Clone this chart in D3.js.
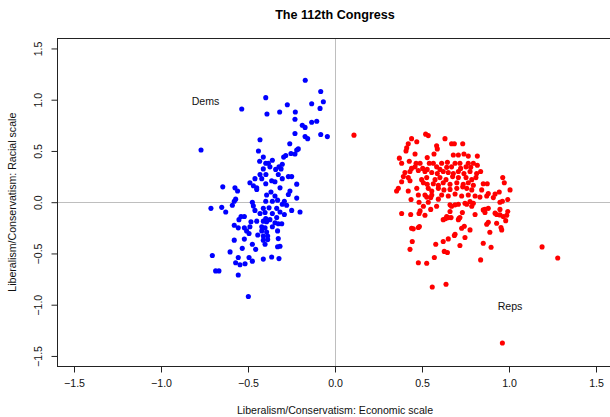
<!DOCTYPE html>
<html>
<head>
<meta charset="utf-8">
<script src="https://cdn.jsdelivr.net/npm/d3@7/dist/d3.min.js"></script>
<style>
  html, body { margin: 0; padding: 0; background: #fff; }
  svg { display: block; font-family: "Liberation Sans", Arial, Helvetica, sans-serif; }
</style>
</head>
<body>
<svg id="chart" width="610" height="417"></svg>
<script>
// Ideal points of House members, 112th Congress (economic, racial dimensions)
const dems = [
  [-0.171,1.19],[-0.082,1.08],[-0.398,1.02],[-0.067,0.98],[-0.134,0.96],[-0.274,0.95],[-0.536,0.91],
  [-0.086,0.915],[-0.391,0.86],[-0.318,0.88],[-0.228,0.88],[-0.23,0.81],[-0.134,0.78],[-0.105,0.79],
  [-0.188,0.75],[-0.172,0.73],[-0.23,0.67],[-0.082,0.66],[-0.044,0.64],[-0.172,0.64],[-0.157,0.62],
  [-0.431,0.61],[-0.77,0.51],[-0.26,0.57],[-0.211,0.52],[-0.22,0.51],[-0.44,0.50],[-0.253,0.475],
  [-0.23,0.47],[-0.283,0.455],[-0.295,0.44],[-0.412,0.44],[-0.36,0.41],[-0.433,0.40],[-0.398,0.38],
  [-0.383,0.38],[-0.303,0.37],[-0.322,0.345],[-0.412,0.325],[-0.341,0.32],[-0.31,0.325],[-0.374,0.345],
  [-0.431,0.27],[-0.397,0.27],[-0.326,0.27],[-0.268,0.25],[-0.249,0.25],[-0.46,0.23],[-0.421,0.23],
  [-0.364,0.21],[-0.345,0.20],[-0.303,0.23],[-0.489,0.19],[-0.469,0.16],[-0.398,0.18],[-0.645,0.15],
  [-0.575,0.14],[-0.45,0.14],[-0.316,0.14],[-0.22,0.176],[-0.45,0.125],
  [-0.56,0.11],[-0.368,0.10],[-0.259,0.11],[-0.268,0.075],[-0.393,0.07],[-0.345,0.06],[-0.571,0.03],
  [-0.579,0.01],[-0.475,0.00],[-0.398,0.01],[-0.36,0.01],[-0.33,0.02],[-0.291,0.01],[-0.22,0.04],
  [-0.303,-0.02],[-0.278,-0.03],[-0.59,-0.03],[-0.713,-0.06],[-0.651,-0.05],[-0.628,-0.095],
  [-0.469,-0.036],[-0.46,-0.08],[-0.412,-0.06],[-0.379,-0.055],[-0.335,-0.06],[-0.316,-0.095],
  [-0.249,-0.08],[-0.201,-0.095],[-0.431,-0.11],[-0.402,-0.10],[-0.36,-0.11],[-0.291,-0.12],
  [-0.54,-0.14],[-0.552,-0.17],[-0.521,-0.14],[-0.398,-0.16],[-0.374,-0.17],[-0.335,-0.15],
  [-0.483,-0.19],[-0.45,-0.185],[-0.412,-0.185],[-0.393,-0.19],[-0.345,-0.20],[-0.326,-0.21],
  [-0.306,-0.21],[-0.579,-0.225],[-0.556,-0.25],[-0.521,-0.25],[-0.489,-0.24],[-0.421,-0.24],
  [-0.402,-0.25],[-0.36,-0.24],[-0.508,-0.28],[-0.494,-0.305],[-0.421,-0.28],[-0.393,-0.29],
  [-0.33,-0.28],[-0.444,-0.32],[-0.412,-0.33],[-0.387,-0.33],[-0.521,-0.36],[-0.579,-0.37],
  [-0.412,-0.37],[-0.387,-0.365],[-0.326,-0.355],[-0.475,-0.41],[-0.402,-0.41],[-0.33,-0.435],
  [-0.316,-0.43],[-0.533,-0.45],[-0.456,-0.46],[-0.603,-0.485],[-0.705,-0.52],[-0.556,-0.54],
  [-0.494,-0.54],[-0.412,-0.555],[-0.364,-0.535],[-0.322,-0.55],[-0.475,-0.575],[-0.571,-0.59],
  [-0.546,-0.61],[-0.517,-0.60],[-0.686,-0.67],[-0.667,-0.67],[-0.556,-0.71],[-0.498,-0.92]
];

const reps = [
  [0.109,0.654],[0.521,0.664],[0.536,0.65],[0.44,0.62],[0.47,0.59],[0.421,0.57],[0.632,0.62],
  [0.67,0.57],[0.686,0.57],[0.734,0.57],[0.584,0.55],[0.588,0.52],[0.412,0.53],[0.408,0.50],
  [0.46,0.47],[0.569,0.47],[0.53,0.435],[0.68,0.46],[0.709,0.46],[0.741,0.47],[0.766,0.45],
  [0.818,0.45],[0.37,0.43],[0.427,0.40],[0.383,0.38],[0.466,0.38],[0.489,0.38],[0.542,0.38],
  [0.565,0.38],[0.613,0.38],[0.646,0.39],[0.69,0.38],[0.718,0.38],[0.766,0.38],[0.795,0.38],
  [0.46,0.345],[0.44,0.33],[0.504,0.33],[0.53,0.32],[0.584,0.345],[0.603,0.32],[0.642,0.34],
  [0.67,0.345],[0.722,0.33],[0.753,0.345],[0.78,0.34],[0.818,0.36],[0.402,0.29],[0.431,0.30],
  [0.479,0.31],[0.517,0.30],[0.556,0.29],[0.588,0.28],[0.622,0.30],[0.651,0.29],[0.68,0.28],
  [0.709,0.30],[0.741,0.28],[0.776,0.30],[0.814,0.28],[0.837,0.30],[0.393,0.25],[0.421,0.24],
  [0.498,0.22],[0.527,0.24],[0.575,0.22],[0.603,0.24],[0.638,0.22],[0.676,0.25],[0.709,0.24],
  [0.753,0.24],[0.786,0.22],[0.81,0.24],[0.964,0.24],[0.973,0.19],[0.383,0.20],[0.431,0.21],
  [0.508,0.19],[0.53,0.175],[0.565,0.18],[0.594,0.165],[0.622,0.19],[0.661,0.175],[0.70,0.19],
  [0.737,0.175],[0.766,0.19],[0.795,0.165],[0.852,0.18],[0.875,0.18],[0.364,0.135],[0.354,0.11],
  [0.421,0.11],[0.47,0.135],[0.536,0.135],[0.556,0.11],[0.594,0.135],[0.626,0.12],[0.661,0.125],
  [0.70,0.135],[0.734,0.15],[0.757,0.135],[0.786,0.12],[0.843,0.12],[0.881,0.085],[0.92,0.08],
  [0.944,0.10],[1.006,0.12],[0.479,0.07],[0.517,0.07],[0.556,0.07],[0.613,0.07],[0.651,0.06],
  [0.69,0.08],[0.728,0.06],[0.766,0.07],[0.805,0.06],[0.437,0.026],[0.527,0.05],[0.55,0.045],
  [0.833,0.05],[0.872,0.06],[0.91,0.045],[0.993,0.026],[0.948,0.00],[0.962,0.01],
  [0.483,0.0],[0.536,0.0],[0.594,0.03],[0.69,-0.026],[0.747,-0.01],[0.795,-0.01],[0.776,0.007],
  [0.508,-0.04],[0.661,-0.026],
  [0.383,-0.11],[0.435,-0.12],[0.489,-0.085],[0.517,-0.127],[0.55,-0.07],[0.584,-0.04],
  [0.642,-0.14],[0.67,-0.04],[0.709,-0.02],[0.718,-0.15],[0.757,-0.02],[0.786,-0.04],
  [0.805,-0.12],[0.862,-0.07],[0.881,-0.06],[0.929,-0.12],[0.948,-0.07],[0.987,-0.127],
  [0.483,-0.11],[0.622,-0.17],[0.636,-0.16],[0.651,-0.15],[0.661,-0.09],[0.667,-0.15],
  [0.713,-0.156],[0.709,-0.17],[0.732,-0.10],[0.852,-0.075],[0.862,-0.10],[0.92,-0.107],
  [0.948,-0.124],[0.967,-0.14],[0.981,-0.18],[0.993,-0.09],[0.44,-0.254],[0.45,-0.26],
  [0.479,-0.247],[0.485,-0.237],[0.728,-0.254],[0.743,-0.234],[0.776,-0.27],[0.881,-0.195],
  [0.872,-0.215],[0.929,-0.205],[0.954,-0.247],[0.958,-0.27],[0.89,-0.293],[0.69,-0.313],
  [0.686,-0.325],[0.651,-0.358],[0.622,-0.384],[0.747,-0.345],[0.444,-0.384],[0.579,-0.41],
  [0.718,-0.423],[0.852,-0.40],[0.897,-0.44],[0.431,-0.46],[0.628,-0.48],[0.646,-0.49],
  [0.571,-0.54],[0.837,-0.563],[0.479,-0.59],[0.527,-0.596],
  [1.19,-0.436],[1.28,-0.544],[0.559,-0.827],[0.638,-0.80],[0.962,-1.374]
];

const xTicks = [-1.5, -1.0, -0.5, 0.0, 0.5, 1.0, 1.5];
const yTicks = [-1.5, -1.0, -0.5, 0.0, 0.5, 1.0, 1.5];
const partyLabels = [
  { text: "Dems", x: -0.75, y: 1.0 },
  { text: "Reps", x: 1.0, y: -1.0 }
];
const titleText = "The 112th Congress";
const xTitle = "Liberalism/Conservatism: Economic scale";
const yTitle = "Liberalism/Conservatism: Racial scale";

const svg = d3.select("#chart");
const x = d3.scaleLinear().domain([-1.6, 1.6]).range([56.6, 613.4]);
const y = d3.scaleLinear().domain([-1.6, 1.6]).range([366.2, 38.2]);
const fmt = d3.format(".1f");
const fontSize = 10.6;
const pointR = 2.55;

// reference lines through the origin
const plot = svg.append("g");
plot.append("line")
  .attr("x1", x.range()[0]).attr("x2", x.range()[1])
  .attr("y1", Math.round(y(0)) + 0.5).attr("y2", Math.round(y(0)) + 0.5)
  .attr("stroke", "#bebebe").attr("stroke-width", 1);
plot.append("line")
  .attr("x1", Math.round(x(0)) + 0.5).attr("x2", Math.round(x(0)) + 0.5)
  .attr("y1", y.range()[1]).attr("y2", y.range()[0])
  .attr("stroke", "#bebebe").attr("stroke-width", 1);

// members
plot.selectAll("circle.dem").data(dems).join("circle")
  .attr("class", "dem")
  .attr("cx", d => x(d[0])).attr("cy", d => y(d[1])).attr("r", pointR)
  .attr("fill", "#0000ff");
plot.selectAll("circle.rep").data(reps).join("circle")
  .attr("class", "rep")
  .attr("cx", d => x(d[0])).attr("cy", d => y(d[1])).attr("r", pointR)
  .attr("fill", "#ff0000");

// party labels
svg.selectAll("text.party").data(partyLabels).join("text")
  .attr("class", "party")
  .attr("x", d => x(d.x) + 1).attr("y", d => y(d.y) + 1)
  .attr("dy", "0.36em")
  .attr("text-anchor", "middle")
  .attr("font-size", fontSize)
  .attr("fill", "#111")
  .text(d => d.text);

// plot frame
const bx0 = Math.round(x.range()[0]) + 0.5, bx1 = Math.round(x.range()[1]) + 0.5;
const by0 = Math.round(y.range()[1]) + 0.5, by1 = Math.round(y.range()[0]) + 0.5;
svg.append("rect")
  .attr("x", bx0).attr("y", by0)
  .attr("width", bx1 - bx0).attr("height", by1 - by0)
  .attr("fill", "none").attr("stroke", "#222").attr("stroke-width", 1);

// bottom axis
const gx = svg.append("g")
  .attr("transform", `translate(0,${by1})`)
  .call(d3.axisBottom(x).tickValues(xTicks).tickFormat(fmt).tickSize(6).tickPadding(7));
gx.select(".domain").remove();
gx.selectAll(".tick line").attr("stroke", "#222");
gx.selectAll(".tick text").attr("font-size", fontSize).attr("font-family", null).attr("fill", "#111");

// left axis, labels parallel to the axis
const gy = svg.append("g")
  .attr("transform", `translate(${bx0},0)`)
  .call(d3.axisLeft(y).tickValues(yTicks).tickFormat(fmt).tickSize(6));
gy.select(".domain").remove();
gy.selectAll(".tick line").attr("stroke", "#222");
gy.selectAll(".tick text")
  .attr("font-size", fontSize).attr("font-family", null).attr("fill", "#111")
  .attr("text-anchor", "middle")
  .attr("x", null).attr("dy", "0.36em")
  .attr("y", -19.6)
  .attr("transform", "rotate(-90)");

// titles
svg.append("text")
  .attr("x", (x.range()[0] + x.range()[1]) / 2).attr("y", 14)
  .attr("dy", "0.36em").attr("text-anchor", "middle")
  .attr("font-size", 12.6).attr("font-weight", "bold").attr("fill", "#000")
  .text(titleText);
svg.append("text")
  .attr("x", (x.range()[0] + x.range()[1]) / 2).attr("y", 410)
  .attr("dy", "0.36em").attr("text-anchor", "middle")
  .attr("font-size", fontSize).attr("fill", "#111")
  .text(xTitle);
svg.append("text")
  .attr("transform", `translate(12,${(y.range()[0] + y.range()[1]) / 2}) rotate(-90)`)
  .attr("dy", "0.36em").attr("text-anchor", "middle")
  .attr("font-size", fontSize).attr("fill", "#111")
  .text(yTitle);
</script>
</body>
</html>
